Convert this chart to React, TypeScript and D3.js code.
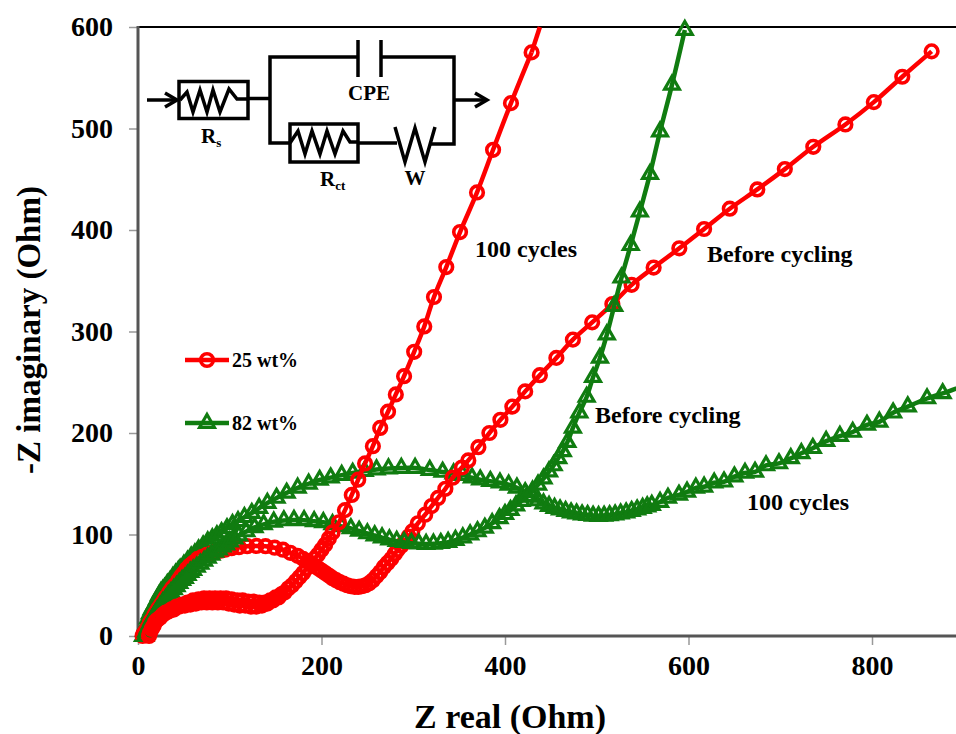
import React, { useEffect, useRef } from "react";
import * as d3 from "d3";

type Pt = [number, number];

const xTicks = [0, 200, 400, 600, 800];
const yTicks = [0, 100, 200, 300, 400, 500, 600];

// 25 wt%, before cycling
const redBefore: Pt[] = [
  [5, 0], [6, 2], [7, 3], [9, 6], [11, 9], [13, 13], [15, 16], [18, 21], [20, 24], [22, 27], [25, 31],
  [28, 35], [30, 38], [34, 43], [37, 47], [40, 50], [44, 55], [47, 59], [50, 62], [53, 66], [56, 69],
  [60, 72], [65, 76], [70, 78], [75, 80], [80, 81.5], [85, 83], [90, 84], [95, 85], [102, 86.5],
  [110, 87.5], [119, 88.5], [129, 88.7], [139, 88.5], [149, 87], [158, 85], [166, 82], [174, 79],
  [180, 76], [186, 73], [191, 70], [196, 67], [200, 64.5], [204, 62], [208, 59.5], [212, 57], [216, 55],
  [220, 53], [224, 51.5], [228, 50], [232, 49], [236, 48.5], [240, 48.3], [244, 49], [248, 50], [252, 52],
  [256, 55], [260, 59], [264, 63], [268, 68], [272, 72], [276, 76], [280, 81], [283, 85], [287, 89],
  [291, 93], [295, 98], [299, 103], [305, 111], [313, 119.5], [320, 128], [327, 136], [335, 145],
  [343, 156], [353, 166], [360, 173], [371, 186], [383, 200], [395, 213], [408, 226], [422, 241],
  [438, 257], [456, 274], [474, 292], [495, 309], [517, 327], [538, 346], [562, 363], [590, 382],
  [617, 401], [645, 421], [675, 440], [705, 460], [736, 482], [771, 504], [802, 526], [833, 551], [865, 576],
];

// 25 wt%, 100 cycles
const redCycled: Pt[] = [
  [12, 0], [13, 3], [15, 7], [17, 10], [19, 14], [21, 16], [24, 18], [27, 21], [30, 23], [33, 24],
  [36, 26], [39, 26], [42, 29], [45, 29], [48, 31], [51, 30], [54, 33], [57, 31], [60, 35], [63, 32],
  [66, 36], [69, 33], [72, 37], [75, 33], [78, 37], [81, 33], [84, 37], [87, 33], [90, 37], [93, 33],
  [96, 37], [99, 32], [102, 36], [105, 31], [108, 35], [111, 30], [114, 35], [117, 30], [120, 34],
  [123, 29], [126, 34], [129, 29], [132, 33], [135, 30], [138, 33], [141, 32], [144, 35], [147, 35],
  [150, 38], [153, 38], [156, 41], [160, 43], [164, 47], [168, 50], [172, 54], [176, 58], [180, 62],
  [184, 67], [188, 71], [192, 76], [196, 80], [200, 85], [204, 90], [208, 96], [212, 102],
  [219, 112], [225.6, 124], [233, 139], [240, 154],
  [247.5, 170], [256, 187], [264, 205], [272.5, 221], [281, 238],
  [290, 256], [301, 280], [312, 305], [322.6, 334], [336, 363.5], [351, 398], [369.5, 437], [387, 479],
  [406.5, 525], [429, 575],
];

// 82 wt%, before cycling
const greenBefore: Pt[] = [
  [8, 0], [9, 4], [11, 8], [13, 12], [15, 16], [17, 19], [19, 22], [21, 25], [24, 29], [27, 33], [30, 36],
  [33, 40], [36, 43], [39, 46], [42, 49], [45, 52], [48, 55], [51, 57], [54, 60], [57, 63], [60, 65],
  [64, 68], [68, 71], [72, 74], [76, 77], [80, 80], [84, 83], [88, 85], [92, 88], [96, 90], [100, 93],
  [105, 96], [110, 99], [118, 103], [127, 107], [137, 110], [148, 112.5], [159, 113.8], [170, 114.2],
  [181, 114], [192, 113], [202, 112], [212, 110], [222, 108], [232, 106], [241, 103.5], [250, 101],
  [258, 99], [266, 97], [274, 95], [282, 93.5], [290, 92.5], [298, 91.5], [306, 91], [314, 90.6], [322, 90.8],
  [330, 91.5], [338, 92.5], [346, 94.5], [354, 97], [362, 100], [370, 103], [378, 106.5], [386, 111],
  [394, 116], [400, 120], [406, 124], [412, 128.5], [418, 133], [424, 137.5], [430, 143], [436, 149],
  [442, 155], [448, 162], [453, 168], [458, 175], [463, 182], [468, 191], [474, 205], [481, 220], [489, 235.5],
  [496, 255], [503.5, 274], [511, 297], [519, 325], [527, 353], [537, 385], [547, 418], [558, 455], [569, 497],
  [582, 543], [596, 597],
];

// 82 wt%, 100 cycles
const greenCycled: Pt[] = [
  [5.5, 0], [7, 5], [9, 11], [11, 17], [13, 22], [15, 26], [17, 29], [19, 32], [21, 36], [23, 40], [25, 43],
  [27, 45], [29, 47], [32, 51], [35, 54], [38, 58], [41, 61], [44, 64], [46, 66], [50, 70], [54, 74], [58, 78],
  [62, 81], [66, 85], [71, 89], [76, 93], [81, 96], [86, 99], [91, 102], [97, 106], [103, 110], [109, 113],
  [116, 117], [124, 121], [132, 126], [141, 131], [151, 136], [162, 141], [174, 146], [186, 150], [198, 153.7],
  [210, 156], [222, 158.5], [234, 160.6], [247, 162.5], [260, 164], [273, 165], [287, 165.5], [302, 165.5],
  [318, 163.5], [332, 161.6], [344, 160], [354, 158.6], [364, 156], [373, 154], [384, 152.5], [394.5, 151],
  [404, 149], [413, 146], [422, 141.5], [430, 137], [436, 133.5], [442, 130.5], [448, 128], [454, 126], [460, 124.5],
  [466, 123], [472, 121.5], [478, 120.5], [484, 119.5], [490, 119], [496, 118.3], [502, 118], [508, 118.3], [514, 118.8],
  [520, 119.5], [526, 120.5], [532, 121.5], [538, 123], [544, 124.5], [550, 126], [555, 127.5], [560, 129],
  [569, 132], [577.6, 136], [589.6, 139], [598.4, 142], [608, 146], [617, 147], [628, 151], [638.7, 152],
  [650, 157], [661.6, 160.6], [672.5, 161.6], [684.5, 168], [698.6, 170], [711.5, 175], [723, 180],
  [735.5, 185], [750, 192], [765, 197], [779, 201], [794.5, 208], [808, 211], [823, 220], [839, 226],
  [860, 234], [877, 239], [910, 250],
];

const RED = "#fe0000";
const GREEN = "#107c10";
const FONT = "'Liberation Serif', serif";
const CIRCLE_SIZE = 125;
const TRI_SIZE = 95;

export default function App() {
  const ref = useRef<SVGSVGElement>(null);

  useEffect(() => {
    const svg = d3.select(ref.current);
    svg.selectAll("*").remove();

    const x = d3.scaleLinear().domain([0, 800]).range([138, 872]);
    const y = d3.scaleLinear().domain([0, 600]).range([636, 27]);
    const line = d3.line<Pt>().x(d => x(d[0])).y(d => y(d[1])).curve(d3.curveCatmullRom);

    const xAxis = svg.append("g").attr("transform", "translate(0,636)")
      .call(d3.axisBottom(x).tickValues(xTicks).tickSize(9).tickPadding(10).tickFormat(d3.format("d")) as any);
    xAxis.select(".domain").remove();
    xAxis.selectAll("line").attr("stroke", "#999").attr("stroke-width", 1.5);
    xAxis.selectAll("text").attr("font-size", 28).attr("font-weight", "bold").attr("font-family", FONT).attr("fill", "#000");

    const yAxis = svg.append("g").attr("transform", "translate(138,0)")
      .call(d3.axisLeft(y).tickValues(yTicks).tickSize(9).tickPadding(16).tickFormat(d3.format("d")) as any);
    yAxis.select(".domain").remove();
    yAxis.selectAll("line").attr("stroke", "#999").attr("stroke-width", 1.5);
    yAxis.selectAll("text").attr("font-size", 28).attr("font-weight", "bold").attr("font-family", FONT).attr("fill", "#000");

    svg.append("line").attr("x1", 137).attr("x2", 956).attr("y1", 27).attr("y2", 27).attr("stroke", "#000").attr("stroke-width", 2);
    svg.append("line").attr("x1", 138).attr("x2", 138).attr("y1", 26).attr("y2", 637).attr("stroke", "#555").attr("stroke-width", 3);
    svg.append("line").attr("x1", 137).attr("x2", 956).attr("y1", 636).attr("y2", 636).attr("stroke", "#555").attr("stroke-width", 3);

    const drawSeries = (data: Pt[], color: string, type: d3.SymbolType, size: number, sw: number) => {
      const g = svg.append("g");
      g.append("path").attr("d", line(data)).attr("fill", "none").attr("stroke", color).attr("stroke-width", 4.5);
      g.selectAll("path.m").data(data).enter().append("path").attr("class", "m")
        .attr("d", d3.symbol().type(type).size(size)() as string)
        .attr("transform", d => `translate(${x(d[0])},${y(d[1])})`)
        .attr("fill", "none").attr("stroke", color).attr("stroke-width", sw);
    };
    drawSeries(greenCycled, GREEN, d3.symbolTriangle, TRI_SIZE, 3.2);
    drawSeries(redBefore, RED, d3.symbolCircle, CIRCLE_SIZE, 3.6);
    drawSeries(greenBefore, GREEN, d3.symbolTriangle, TRI_SIZE, 3.2);
    drawSeries(redCycled, RED, d3.symbolCircle, CIRCLE_SIZE, 3.6);

    // top of the red 100 cycles line runs out of the frame
    svg.append("path").attr("d", line([[429, 575], [438, 600]])).attr("stroke", RED).attr("stroke-width", 4.5).attr("fill", "none");

    const legend = (py: number, color: string, type: d3.SymbolType, size: number, sw: number, label: string) => {
      svg.append("line").attr("x1", 185).attr("x2", 229).attr("y1", py).attr("y2", py).attr("stroke", color).attr("stroke-width", 4.5);
      svg.append("path").attr("d", d3.symbol().type(type).size(size)() as string).attr("transform", `translate(207,${py})`)
        .attr("fill", "none").attr("stroke", color).attr("stroke-width", sw);
      svg.append("text").attr("x", 232).attr("y", py + 7).attr("font-size", 20).attr("font-weight", "bold")
        .attr("font-family", FONT).text(label);
    };
    legend(360, RED, d3.symbolCircle, CIRCLE_SIZE, 3.6, "25 wt%");
    legend(423, GREEN, d3.symbolTriangle, TRI_SIZE, 3.2, "82 wt%");

    const label = (px: number, py: number, txt: string, size = 24, anchor = "start") =>
      svg.append("text").attr("x", px).attr("y", py).attr("font-size", size).attr("font-weight", "bold")
        .attr("font-family", FONT).attr("text-anchor", anchor).text(txt);
    label(475, 257, "100 cycles");
    label(707, 262, "Before cycling");
    label(595, 423, "Before cycling");
    label(747, 510, "100 cycles");

    label(510, 728, "Z real (Ohm)", 34, "middle");
    label(0, 0, "-Z imaginary (Ohm)", 33, "middle").attr("transform", "translate(40,330) rotate(-90)");

    // equivalent circuit inset
    const inset = svg.append("g").attr("fill", "none").attr("stroke", "#000").attr("stroke-width", 3.5);
    const wires: Pt[][] = [
      [[147, 100], [177, 100]], [[165, 93], [177, 100], [165, 107]],
      [[180, 100], [187, 92], [193, 112], [200, 90], [207, 112], [213, 90], [220, 112], [229, 89], [237, 99], [248, 99]],
      [[248, 98.5], [270, 98.5]], [[290, 143], [270, 143], [270, 57], [358, 57]],
      [[358, 40], [358, 77]], [[381, 40], [381, 77]], [[381, 57], [454, 57], [454, 144], [431, 144]],
      [[454, 100], [487, 100]], [[475, 93], [487, 100], [475, 107]],
      [[290, 143], [298, 131], [305, 154], [312, 131], [320, 154], [327, 131], [335, 154], [343, 131], [350, 142], [358, 142]],
      [[358, 143], [397, 143]], [[395, 127], [405, 162], [415, 128], [425, 162], [435, 127]],
    ];
    wires.forEach(w => inset.append("path").attr("d", d3.line()(w)));
    inset.append("rect").attr("x", 179).attr("y", 81.5).attr("width", 69).attr("height", 37);
    inset.append("rect").attr("x", 290).attr("y", 124).attr("width", 68).attr("height", 38);

    label(369, 100, "CPE", 21, "middle");
    label(415, 185, "W", 21, "middle");
    const rs = label(201, 143, "R", 21);
    rs.append("tspan").attr("dy", 4).attr("font-size", 13).text("s");
    const rct = label(320, 186, "R", 21);
    rct.append("tspan").attr("dy", 4).attr("font-size", 13).text("ct");
  }, []);

  return <svg ref={ref} width={956} height={734} style={{ position: "absolute", left: 0, top: 0, background: "#fff" }} />;
}
